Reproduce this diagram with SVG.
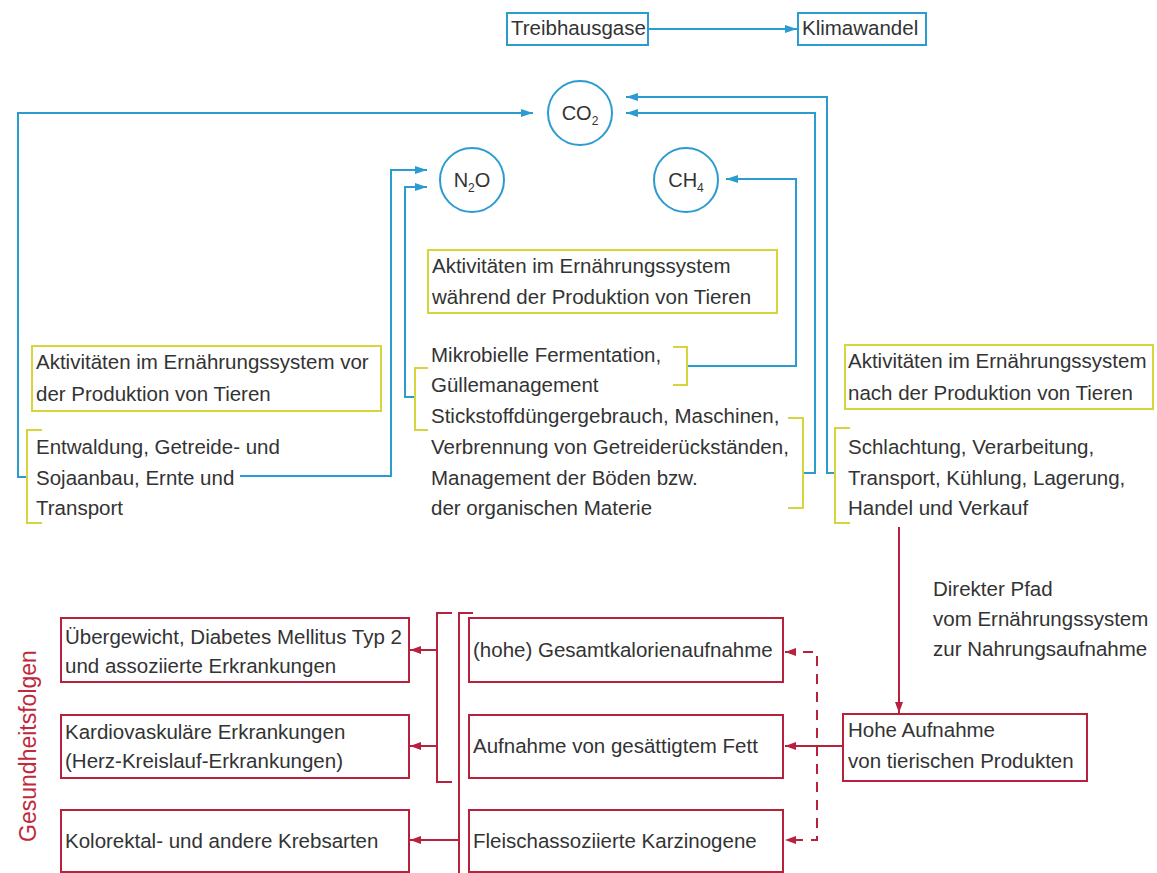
<svg xmlns="http://www.w3.org/2000/svg" width="1157" height="873" viewBox="0 0 1157 873">
<defs>
<style>
.t{font-family:"Liberation Sans",Arial,sans-serif;font-size:20.5px;fill:#333}
.c{font-family:"Liberation Sans",Arial,sans-serif;font-size:20px;fill:#333;text-anchor:middle}
.bb{fill:#fff;stroke:#2b9bd0;stroke-width:2}
.yb{fill:#fff;stroke:#d6d63c;stroke-width:2}
.rb{fill:#fff;stroke:#b8213d;stroke-width:2}
.bl{fill:none;stroke:#2b9bd0;stroke-width:2}
.yl{fill:none;stroke:#d6d63c;stroke-width:2}
.rl{fill:none;stroke:#b8213d;stroke-width:2}
.rd{fill:none;stroke:#b8213d;stroke-width:2;stroke-dasharray:10 8}
.hf{font-family:"Liberation Sans",Arial,sans-serif;font-size:23px;fill:#c0283c;text-anchor:middle}
</style>
<marker id="ab" viewBox="0 0 12 8" refX="12" refY="4" markerWidth="12" markerHeight="8" markerUnits="userSpaceOnUse" orient="auto"><path d="M0,0 L12,4 L0,8 z" fill="#2b9bd0"/></marker>
<marker id="ar" viewBox="0 0 11 8" refX="11" refY="4" markerWidth="11" markerHeight="8" markerUnits="userSpaceOnUse" orient="auto-start-reverse"><path d="M0,0 L11,4 L0,8 z" fill="#b8213d"/></marker>
</defs>
<rect width="1157" height="873" fill="#fff"/>

<g id="connectors">
<path class="bl" d="M648,29 H797" marker-end="url(#ab)"/>
<path class="bl" d="M27,477 H18 V113 H533" marker-end="url(#ab)"/>
<path class="bl" d="M240,476 H391 V170 H427" marker-end="url(#ab)"/>
<path class="bl" d="M415,397 H405 V187 H427" marker-end="url(#ab)"/>
<path class="bl" d="M687,366 H796 V179 H726" marker-end="url(#ab)"/>
<path class="bl" d="M803,473 H815 V113 H626" marker-end="url(#ab)"/>
<path class="bl" d="M835,473 H827 V97 H626" marker-end="url(#ab)"/>
<path class="rl" d="M899,527 V713" marker-end="url(#ar)"/>
<path class="rl" d="M843,746 H785" marker-end="url(#ar)"/>
<path class="rd" d="M785,652 H817 V840 H785" marker-start="url(#ar)" marker-end="url(#ar)"/>
<path class="rl" d="M452,613 H437 V782 H452"/>
<path class="rl" d="M437,650 H410" marker-end="url(#ar)"/>
<path class="rl" d="M437,746 H410" marker-end="url(#ar)"/>
<path class="rl" d="M473,613 H459 V873"/>
<path class="rl" d="M459,840 H410" marker-end="url(#ar)"/>
<path class="yl" d="M42,430 H27 V523 H42"/>
<path class="yl" d="M428,368 H415 V430 H428"/>
<path class="yl" d="M673,347 H687 V385 H673"/>
<path class="yl" d="M788,418 H803 V508 H788"/>
<path class="yl" d="M850,428 H835 V523 H850"/>
</g>

<g id="treibhausgase"><rect class="bb" x="507" y="13" width="141" height="32"/><text class="t" x="511" y="35">Treibhausgase</text></g>
<g id="klimawandel"><rect class="bb" x="798" y="13" width="128" height="32"/><text class="t" x="802" y="35">Klimawandel</text></g>

<g id="co2"><circle class="bb" cx="580" cy="113" r="32"/><text class="c" x="580" y="120">CO<tspan font-size="12" dy="5">2</tspan></text></g>
<g id="n2o"><circle class="bb" cx="472" cy="180" r="32"/><text class="c" x="472" y="187">N<tspan font-size="12" dy="5">2</tspan><tspan dy="-5">O</tspan></text></g>
<g id="ch4"><circle class="bb" cx="686" cy="180" r="32"/><text class="c" x="686" y="187">CH<tspan font-size="12" dy="5">4</tspan></text></g>

<g id="vor"><rect class="yb" x="32" y="346" width="349" height="65"/><text class="t" x="36" y="369">Aktivitäten im Ernährungssystem vor</text><text class="t" x="36" y="401">der Produktion von Tieren</text></g>
<g id="vor-items"><text class="t" x="36" y="454">Entwaldung, Getreide- und</text><text class="t" x="36" y="485">Sojaanbau, Ernte und</text><text class="t" x="36" y="515">Transport</text></g>

<g id="waehrend"><rect class="yb" x="428" y="250" width="349" height="63"/><text class="t" x="432" y="273">Aktivitäten im Ernährungssystem</text><text class="t" x="432" y="304">während der Produktion von Tieren</text></g>
<g id="waehrend-items">
<text class="t" x="431" y="362">Mikrobielle Fermentation,</text>
<text class="t" x="431" y="392">Güllemanagement</text>
<text class="t" x="431" y="423">Stickstoffdüngergebrauch, Maschinen,</text>
<text class="t" x="431" y="454">Verbrennung von Getreiderückständen,</text>
<text class="t" x="431" y="485">Management der Böden bzw.</text>
<text class="t" x="431" y="515">der organischen Materie</text>
</g>

<g id="nach"><rect class="yb" x="845" y="345" width="308" height="64"/><text class="t" x="848" y="368">Aktivitäten im Ernährungssystem</text><text class="t" x="848" y="400">nach der Produktion von Tieren</text></g>
<g id="nach-items"><text class="t" x="848" y="454">Schlachtung, Verarbeitung,</text><text class="t" x="848" y="485">Transport, Kühlung, Lagerung,</text><text class="t" x="848" y="515">Handel und Verkauf</text></g>

<g id="pfad"><text class="t" x="933" y="596">Direkter Pfad</text><text class="t" x="933" y="626">vom Ernährungssystem</text><text class="t" x="933" y="656">zur Nahrungsaufnahme</text></g>

<g id="hohe-aufnahme"><rect class="rb" x="843" y="714" width="244" height="67"/><text class="t" x="848" y="737">Hohe Aufnahme</text><text class="t" x="848" y="768">von tierischen Produkten</text></g>

<g id="kalorien"><rect class="rb" x="469" y="618" width="314" height="64"/><text class="t" x="473" y="657">(hohe) Gesamtkalorienaufnahme</text></g>
<g id="fett"><rect class="rb" x="469" y="715" width="314" height="63"/><text class="t" x="473" y="753">Aufnahme von gesättigtem Fett</text></g>
<g id="karzinogene"><rect class="rb" x="469" y="810" width="314" height="62"/><text class="t" x="473" y="848">Fleischassoziierte Karzinogene</text></g>

<g id="uebergewicht"><rect class="rb" x="61" y="618" width="348" height="64"/><text class="t" x="65" y="644">Übergewicht, Diabetes Mellitus Typ 2</text><text class="t" x="65" y="673">und assoziierte Erkrankungen</text></g>
<g id="kardio"><rect class="rb" x="61" y="715" width="348" height="63"/><text class="t" x="65" y="739">Kardiovaskuläre Erkrankungen</text><text class="t" x="65" y="768">(Herz-Kreislauf-Erkrankungen)</text></g>
<g id="krebs"><rect class="rb" x="61" y="810" width="348" height="62"/><text class="t" x="65" y="848">Kolorektal- und andere Krebsarten</text></g>

<g id="gesundheitsfolgen"><text class="hf" transform="translate(36,746) rotate(-90)">Gesundheitsfolgen</text></g>
</svg>
